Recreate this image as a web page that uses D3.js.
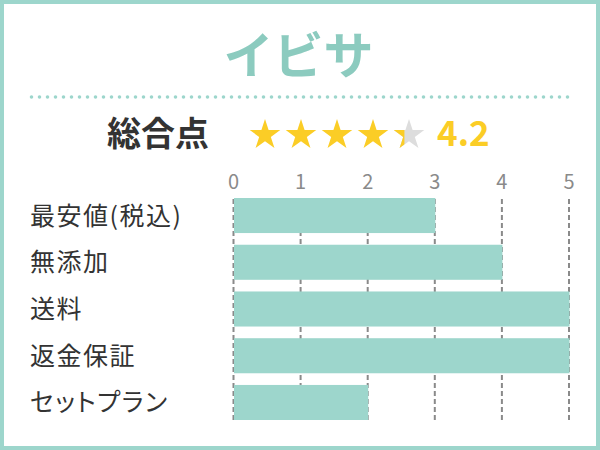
<!DOCTYPE html>
<html><head><meta charset="utf-8">
<script src="https://cdn.jsdelivr.net/npm/d3@7"></script>
<style>html,body{margin:0;padding:0;background:#fff;}svg{display:block;}.lab{font-feature-settings:"palt";}</style>
</head><body>
<svg id="c" width="600" height="450"></svg>
<script>
const title = "イビサ";
const scoreLabel = "総合点";
const rating = 4.2;
const starFills = [1, 1, 1, 1, 0.35];
const categories = ["最安値(税込)", "無添加", "送料", "返金保証", "セットプラン"];
const values = [3, 4, 5, 5, 2];
const tickValues = [0, 1, 2, 3, 4, 5];

const teal = "#9dd6cc", titleCol = "#8ccbbf", gold = "#fbcd26", grayStar = "#dddddd";
const font = "'Noto Sans CJK JP','Noto Sans',sans-serif";
const svg = d3.select("#c");

// border
svg.append("rect").attr("x", 2).attr("y", 2).attr("width", 596).attr("height", 446)
  .attr("fill", "#fff").attr("stroke", teal).attr("stroke-width", 4);

// title
svg.append("text").attr("x", 298.5).attr("y", 74).attr("text-anchor", "middle")
  .attr("font-family", font).attr("font-weight", 700).attr("font-size", 50)
  .attr("fill", titleCol).text(title);

// dotted separator
svg.append("line").attr("x1", 31.5).attr("x2", 568).attr("y1", 97).attr("y2", 97)
  .attr("stroke", teal).attr("stroke-width", 3.6).attr("stroke-linecap", "round")
  .attr("stroke-dasharray", "0 8");

// score label
svg.append("text").attr("x", 107).attr("y", 146).attr("font-family", font)
  .attr("font-weight", 700).attr("font-size", 34).attr("fill", "#333").text(scoreLabel);

// stars
const sx = d3.scaleLinear().domain([0, 4]).range([265, 409]);
const starPath = d3.symbol().type(d3.symbolStar).size(290)();
const R = Math.sqrt(290 * 0.8908130915292852);
const defs = svg.append("defs");
starFills.forEach((f, i) => {
  const g = svg.append("g").attr("transform", `translate(${sx(i)},135)`);
  if (f < 1) {
    g.append("path").attr("d", starPath).attr("fill", grayStar);
    const w = 2 * R * Math.sin(2 * Math.PI / 5);
    defs.append("clipPath").attr("id", "clip" + i).append("rect")
      .attr("x", -w / 2).attr("y", -R - 2).attr("width", w * f).attr("height", 2 * R + 4);
    g.append("path").attr("d", starPath).attr("fill", gold).attr("clip-path", `url(#clip${i})`);
  } else {
    g.append("path").attr("d", starPath).attr("fill", gold);
  }
});

svg.append("text").attr("x", 437).attr("y", 146).attr("font-family", font)
  .attr("font-weight", 700).attr("font-size", 35).attr("fill", gold).text(rating.toFixed(1));

// bar chart
const x = d3.scaleLinear().domain([0, 5]).range([233, 568.5]);
const y = d3.scaleBand().domain(categories).range([198, 420]).paddingInner(0.25).paddingOuter(0);

// grid lines (dashed) via axis, behind bars
const grid = svg.append("g").attr("transform", "translate(0,420)")
  .call(d3.axisTop(x).tickValues(tickValues).tickSize(222).tickFormat(""));
grid.select(".domain").remove();
grid.selectAll("line").attr("stroke", "#8a8a8a").attr("stroke-width", 2)
  .attr("stroke-dasharray", "5 3");

// bars
svg.append("g").selectAll("rect").data(categories).join("rect")
  .attr("x", x(0) + 1).attr("y", d => y(d))
  .attr("width", (d, i) => x(values[i]) - x(0)).attr("height", y.bandwidth())
  .attr("fill", teal);

// tick labels
const ax = svg.append("g").attr("transform", "translate(0,189)")
  .call(d3.axisTop(x).tickValues(tickValues).tickSize(0).tickPadding(0).tickFormat(d3.format("d")));
ax.select(".domain").remove();
ax.selectAll("text").attr("font-family", font).attr("font-size", 20).attr("font-weight", 400)
  .attr("fill", "#8a8a8a").attr("dy", 0);

// category labels
svg.append("g").selectAll("text").data(categories).join("text")
  .attr("class", "lab")
  .attr("x", 30).attr("y", d => y(d) + y.bandwidth() / 2 + 9)
  .attr("font-family", font).attr("font-size", 25).attr("fill", "#333")
  .attr("letter-spacing", 1.5).text(d => d);
</script>
</body></html>
